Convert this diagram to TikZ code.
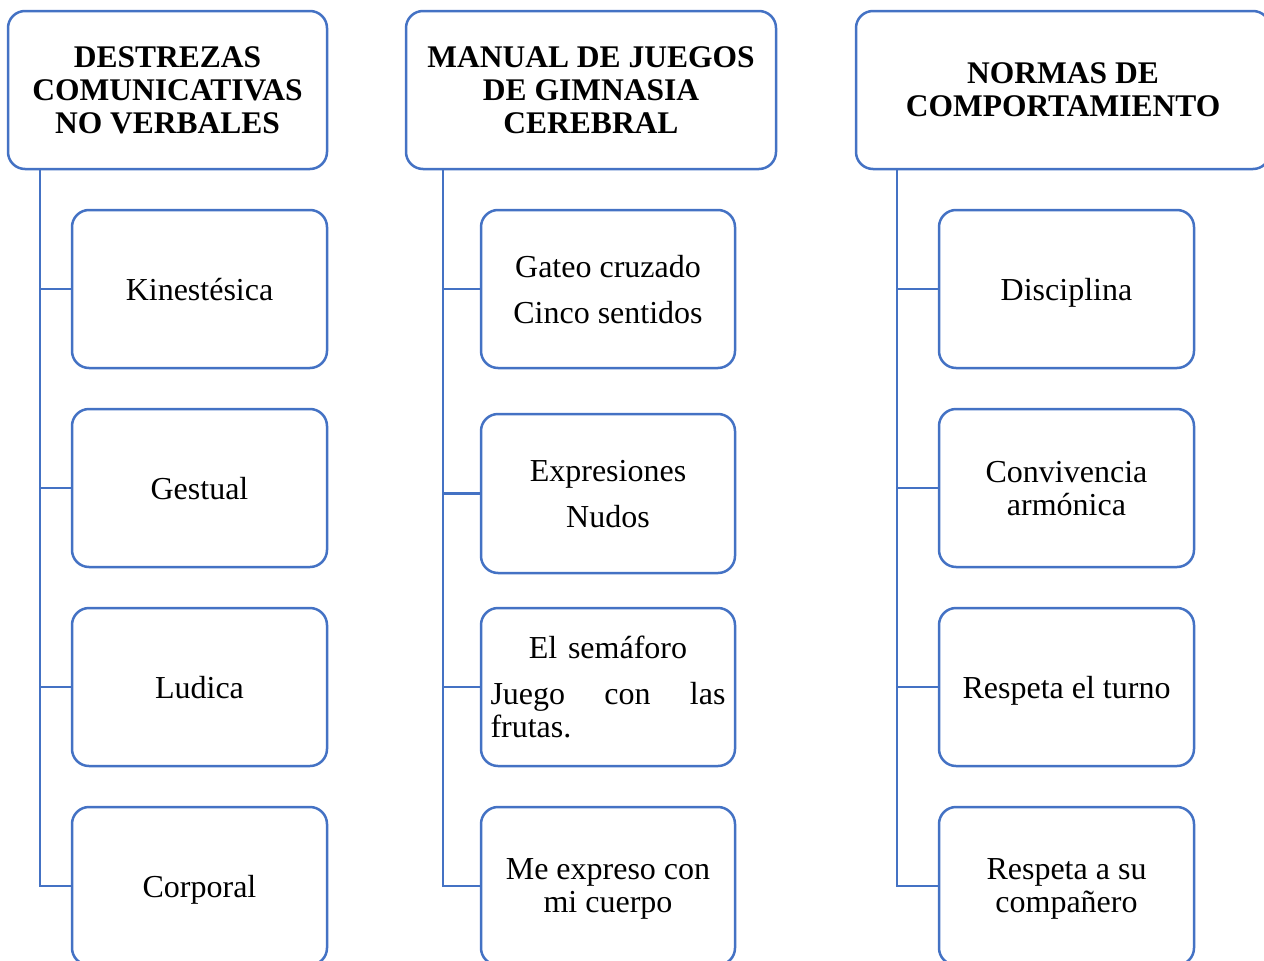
\documentclass[tikz,border=0pt]{standalone}
\usepackage{fontspec}
\setmainfont{Liberation Serif}
\definecolor{bl}{HTML}{4472C4}
\tikzset{
  box/.style={draw=bl, line width=2.5pt, rounded corners=17pt, fill=white, inner sep=4pt, align=center},
  topbox/.style={box, minimum height=158pt, font=\fontsize{31.5}{33}\selectfont\bfseries},
  childbox/.style={box, minimum width=255pt, minimum height=158pt, text depth=0pt, font=\fontsize{32}{33}\selectfont},
  link/.style={draw=bl, line width=2.5pt}
}
\begin{document}
\begin{tikzpicture}[x=1pt,y=-1pt]
\useasboundingbox (0,0) rectangle (1264,961);
\clip (0,0) rectangle (1264,961);
% spines
\coordinate (sp1) at (40,0);
\coordinate (sp2) at (443,0);
\coordinate (sp3) at (897,0);
% top boxes
\node[topbox, minimum width=319pt] (t1) at (167.5,90) {DESTREZAS\\COMUNICATIVAS\\NO VERBALES};
\node[topbox, minimum width=370pt] (t2) at (591,90) {MANUAL DE JUEGOS\\DE GIMNASIA\\CEREBRAL};
\node[topbox, minimum width=414pt] (t3) at (1063,90) {NORMAS DE\\COMPORTAMIENTO};
% column 1
\node[childbox] (a1) at (199.5,289) {Kinestésica};
\node[childbox] (a2) at (199.5,488) {Gestual};
\node[childbox] (a3) at (199.5,687) {Ludica};
\node[childbox] (a4) at (199.5,886) {Corporal};
% column 2
\node[childbox, minimum width=254pt] (b1) at (608,289) {Gateo cruzado\\[13pt]Cinco sentidos};
\node[childbox, minimum width=254pt, minimum height=159pt] (b2) at (608,493.5) {Expresiones\\[13pt]Nudos};
\node[childbox, text depth={}, minimum width=254pt, text width=235pt, align=left] (b3) at (608,687)
  {\makebox[235pt]{El semáforo}\\[13pt]Juego\hfill con\hfill las\\frutas.};
\node[childbox, minimum width=254pt] (b4) at (608,886) {Me expreso con\\mi cuerpo};
% column 3
\node[childbox] (c1) at (1066.5,289) {Disciplina};
\node[childbox] (c2) at (1066.5,488) {Convivencia\\armónica};
\node[childbox] (c3) at (1066.5,687) {Respeta el turno};
\node[childbox] (c4) at (1066.5,886) {Respeta a su\\compañero};
% connectors
\draw[link] (t1.south -| sp1) |- (a4.west);
\draw[link] (sp1 |- a1.west) -- (a1.west);
\draw[link] (sp1 |- a2.west) -- (a2.west);
\draw[link] (sp1 |- a3.west) -- (a3.west);
\draw[link] (t2.south -| sp2) |- (b4.west);
\draw[link] (sp2 |- b1.west) -- (b1.west);
\draw[link] (sp2 |- b2.west) -- (b2.west);
\draw[link] (sp2 |- b3.west) -- (b3.west);
\draw[link] (t3.south -| sp3) |- (c4.west);
\draw[link] (sp3 |- c1.west) -- (c1.west);
\draw[link] (sp3 |- c2.west) -- (c2.west);
\draw[link] (sp3 |- c3.west) -- (c3.west);
\end{tikzpicture}
\end{document}
